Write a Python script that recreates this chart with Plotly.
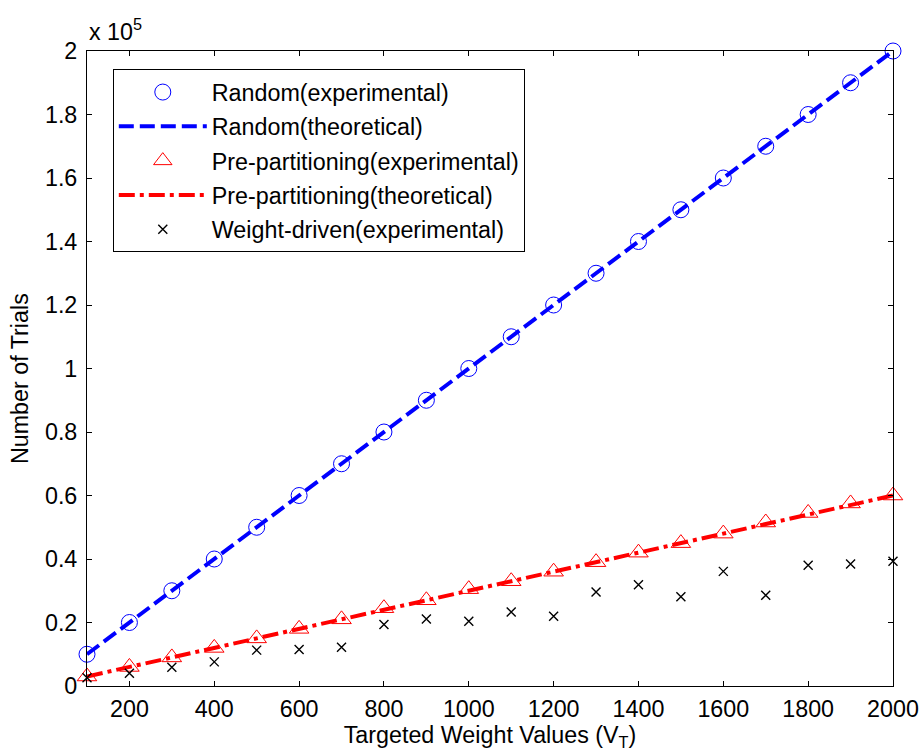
import plotly.graph_objects as go

# Targeted weight values V_T
weights = [100, 200, 300, 400, 500, 600, 700, 800, 900, 1000,
           1100, 1200, 1300, 1400, 1500, 1600, 1700, 1800, 1900, 2000]

# Number of trials for each method
random_exp = [10000, 20000, 30000, 40000, 50000, 60000, 70000, 80000, 90000, 100000,
              110000, 120000, 130000, 140000, 150000, 160000, 170000, 180000, 190000, 200000]
random_theo = [10000, 20000, 30000, 40000, 50000, 60000, 70000, 80000, 90000, 100000,
               110000, 120000, 130000, 140000, 150000, 160000, 170000, 180000, 190000, 200000]
prepart_exp = [3000, 6000, 9000, 12000, 15000, 18000, 21000, 24500, 27000, 30500,
               33000, 36000, 39000, 42000, 45000, 48000, 51500, 54500, 57500, 60000]
prepart_theo = [3000, 6000, 9000, 12000, 15000, 18000, 21000, 24000, 27000, 30000,
                33000, 36000, 39000, 42000, 45000, 48000, 51000, 54000, 57000, 60000]
weight_exp = [2600, 4000, 5900, 7600, 11300, 11500, 12200, 19400, 21100, 20400,
              23300, 22000, 29600, 31900, 28100, 36100, 28600, 38000, 38400, 39300]

x_ticks = [200, 400, 600, 800, 1000, 1200, 1400, 1600, 1800, 2000]
y_ticks = [0, 20000, 40000, 60000, 80000, 100000, 120000, 140000, 160000, 180000, 200000]
y_tick_text = ["0", "0.2", "0.4", "0.6", "0.8", "1", "1.2", "1.4", "1.6", "1.8", "2"]

FONT = "Liberation Sans, Arial, sans-serif"
FS = 23.3

fig = go.Figure()

fig.add_trace(go.Scatter(
    x=weights, y=random_exp, mode="markers", name="Random(experimental)",
    legendgroup="a",
    marker=dict(symbol="circle-open", size=16, color="#0000ff", line=dict(width=1)),
    cliponaxis=False,
))
fig.add_trace(go.Scatter(
    x=weights, y=random_theo, mode="lines", name="Random(theoretical)",
    legendgroup="b",
    line=dict(color="#0000ff", width=4, dash="15px,6px"),
))
fig.add_trace(go.Scatter(
    x=weights, y=prepart_exp, mode="markers", name="Pre-partitioning(experimental)",
    legendgroup="c",
    marker=dict(symbol="triangle-up-open", size=17, color="#ff0000", line=dict(width=1)),
    cliponaxis=False,
))
fig.add_trace(go.Scatter(
    x=weights, y=prepart_theo, mode="lines", name="Pre-partitioning(theoretical)",
    legendgroup="d",
    line=dict(color="#ff0000", width=4, dash="16px,5px,4px,5px"),
))
fig.add_trace(go.Scatter(
    x=weights, y=weight_exp, mode="markers", name="Weight-driven(experimental)",
    legendgroup="e",
    marker=dict(symbol="x-thin-open", size=9, color="#000000", line=dict(width=1.4)),
    cliponaxis=False,
))

axis_common = dict(
    showline=True, linecolor="black", linewidth=1, mirror="ticks",
    ticks="inside", ticklen=5, tickwidth=1, tickcolor="black",
    showgrid=False, zeroline=False, automargin=False,
    tickfont=dict(family=FONT, size=FS, color="black"),
)

fig.update_layout(
    width=921, height=755,
    margin=dict(l=87, r=28, t=51, b=69, pad=0, autoexpand=False),
    paper_bgcolor="white", plot_bgcolor="white",
    font=dict(family=FONT, size=FS, color="black"),
    xaxis=dict(
        range=[100, 2000], tickmode="array", tickvals=x_ticks,
        ticklabelstandoff=2,
        title=dict(text="Targeted Weight Values (V<sub>T</sub>)",
                   font=dict(family=FONT, size=FS, color="black"), standoff=2),
        **axis_common,
    ),
    yaxis=dict(
        range=[0, 200000], tickmode="array", tickvals=y_ticks, ticktext=y_tick_text,
        ticklabelstandoff=4,
        **axis_common,
    ),
    legend=dict(
        x=0.032, y=0.971, xanchor="left", yanchor="top",
        bgcolor="white", bordercolor="black", borderwidth=1,
        font=dict(family=FONT, size=FS, color="black"),
        itemwidth=88, tracegroupgap=1, traceorder="grouped",
    ),
    showlegend=True,
    annotations=[
        dict(text="x 10<sup>5</sup>", xref="paper", yref="paper", x=0, y=1,
             xanchor="left", yanchor="bottom", yshift=4, showarrow=False,
             font=dict(family=FONT, size=FS, color="black")),
        dict(text="Number of Trials", xref="paper", yref="paper",
             x=-0.083, y=0.4835, xanchor="center", yanchor="middle",
             textangle=-90, showarrow=False,
             font=dict(family=FONT, size=FS, color="black")),
    ],
)

fig.write_html("out.html")
